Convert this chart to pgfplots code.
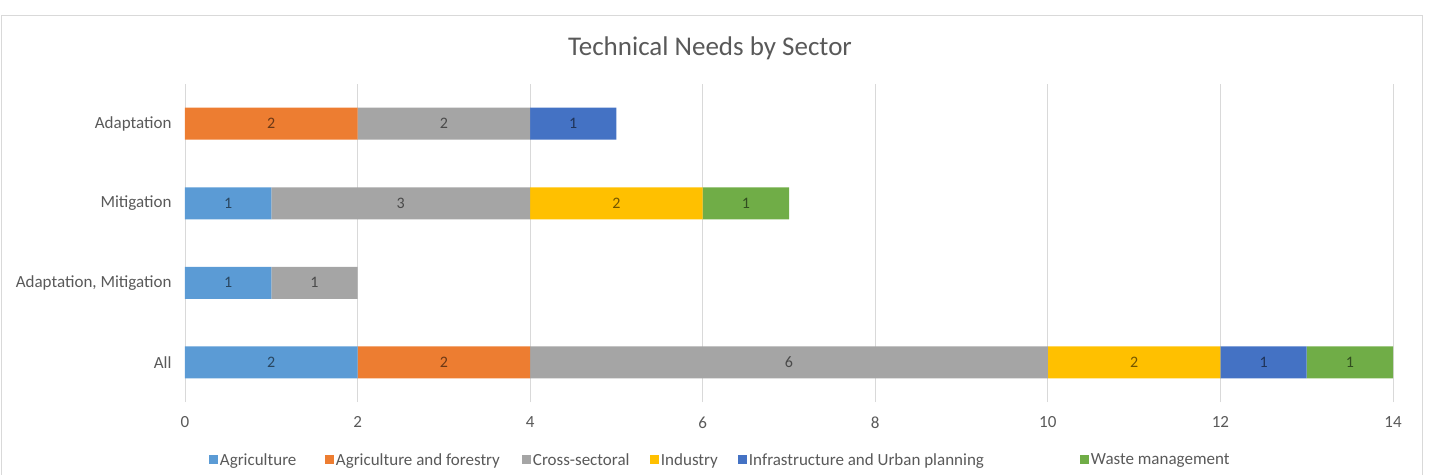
\documentclass[border=0pt]{standalone}
\usepackage{fontspec}
\setmainfont{Carlito}
\usepackage{pgfplots}
\pgfplotsset{compat=1.18}
\definecolor{cAgr}{HTML}{5B9BD5}
\definecolor{cAF}{HTML}{ED7D31}
\definecolor{cCross}{HTML}{A5A5A5}
\definecolor{cInd}{HTML}{FFC000}
\definecolor{cInf}{HTML}{4472C4}
\definecolor{cWaste}{HTML}{70AD47}
\definecolor{txt}{HTML}{595959}
\definecolor{gridc}{HTML}{D9D9D9}
\pgfplotsset{
  commonax/.style={
    at={(0pt,0pt)}, anchor=south west,
    scale only axis, width=1208pt, height=318pt,
    xmin=0, xmax=14, ymin=-0.5, ymax=3.5,
  },
  lbl/.style={draw=none, mark=none, nodes near coords, point meta=explicit symbolic,
    every node near coord/.style={anchor=center, font=\fontsize{16}{18}\selectfont, text=#1}},
}
\begin{document}
\begin{tikzpicture}
\path[use as bounding box] (-185pt,-72pt) rectangle (1246pt,402pt);
\draw[gridc, line width=1pt] (-183pt,-90pt) rectangle (1237pt,386pt);
\node[txt, font=\fontsize{27}{30}\selectfont] at (525pt,354pt) {Technical Needs by Sector};
\begin{axis}[
  commonax,
  xbar stacked, bar width=32pt,
  xtick={0,2,...,14},
  ytick={0,1,2,3},
  yticklabels={All,{Adaptation, Mitigation},Mitigation,Adaptation},
  xmajorgrids, grid style={gridc, line width=0.8pt},
  axis line style={draw=none},
  tick style={draw=none},
  ticklabel style={font=\fontsize{17}{19}\selectfont, text=txt},
  /pgf/number format/assume math mode=true,
  xticklabel style={yshift=-11pt},
  yticklabel style={xshift=-10pt},
  legend columns=6,
  legend style={draw=none, fill=none, at={(0.4387,-0.182)}, anchor=center,
    font=\fontsize{17}{19}\selectfont, text=txt,
    /tikz/every even column/.append style={column sep=0pt}},
  legend image code/.code={\fill[#1] (0pt,-4.5pt) rectangle (9pt,4.5pt);},
]
\addplot[fill=cAgr, draw=none] coordinates {(2,0) (1,1) (1,2) (0,3)};
\addplot[fill=cAF, draw=none] coordinates {(2,0) (0,1) (0,2) (2,3)};
\addplot[fill=cCross, draw=none] coordinates {(6,0) (1,1) (3,2) (2,3)};
\addplot[fill=cInd, draw=none] coordinates {(2,0) (0,1) (2,2) (0,3)};
\addplot[fill=cInf, draw=none] coordinates {(1,0) (0,1) (0,2) (1,3)};
\addplot[fill=cWaste, draw=none] coordinates {(1,0) (0,1) (1,2) (0,3)};
\legend{\makebox[103pt][l]{Agriculture},
        \makebox[184pt][l]{Agriculture and forestry},
        \makebox[115pt][l]{Cross-sectoral},
        \makebox[75pt][l]{Industry},
        \makebox[329pt][l]{Infrastructure and Urban planning},
        \makebox[128pt][l]{Waste management}}
\end{axis}
\begin{axis}[commonax, hide axis]
\addplot[lbl=cAgr!45!black] coordinates {(1,0) [2] (0.5,1) [1] (0.5,2) [1]};
\addplot[lbl=cAF!45!black] coordinates {(3,0) [2] (1,3) [2]};
\addplot[lbl=cCross!45!black] coordinates {(7,0) [6] (1.5,1) [1] (2.5,2) [3] (3,3) [2]};
\addplot[lbl=cInd!45!black] coordinates {(11,0) [2] (5,2) [2]};
\addplot[lbl=cInf!45!black] coordinates {(12.5,0) [1] (4.5,3) [1]};
\addplot[lbl=cWaste!45!black] coordinates {(13.5,0) [1] (6.5,2) [1]};
\end{axis}
\end{tikzpicture}
\end{document}
